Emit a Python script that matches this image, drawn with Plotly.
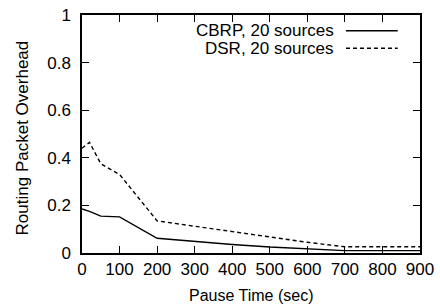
import plotly.graph_objects as go

pause = [0, 20, 50, 100, 200, 300, 400, 500, 600, 700, 800, 900]
cbrp = [0.185, 0.175, 0.155, 0.152, 0.062, 0.048, 0.036, 0.025, 0.017, 0.01, 0.01, 0.01]
dsr = [0.44, 0.465, 0.375, 0.33, 0.135, 0.112, 0.09, 0.065, 0.045, 0.026, 0.026, 0.026]
names = ["CBRP, 20 sources", "DSR, 20 sources"]
xticks = [0, 100, 200, 300, 400, 500, 600, 700, 800, 900]
yticks = [0, 0.2, 0.4, 0.6, 0.8, 1]
ytick_labels = ["0", "0.2", "0.4", "0.6", "0.8", "1"]

FONT = "Liberation Sans, Arial, sans-serif"
FS = 17
fig = go.Figure()
fig.add_trace(go.Scatter(x=pause, y=cbrp, mode="lines", name=names[0],
                         line=dict(color="black", width=1.4), showlegend=False))
fig.add_trace(go.Scatter(x=pause, y=dsr, mode="lines", name=names[1],
                         line=dict(color="black", width=1.4, dash="4px,3px"), showlegend=False))

# gnuplot-style legend: text right aligned, key sample to the right
for nm, dash, ypos in zip(names, ["solid", "4px,3px"], [0.934, 0.860]):
    fig.add_annotation(x=0.752, y=ypos, xref="paper", yref="paper", text=nm,
                       showarrow=False, xanchor="right", yanchor="middle",
                       font=dict(family=FONT, size=FS, color="black"))
    fig.add_shape(type="line", xref="paper", yref="paper", x0=0.781, x1=0.934,
                  y0=ypos, y1=ypos, line=dict(color="black", width=1.4, dash=dash))

axis_common = dict(ticks="inside", ticklen=7, tickwidth=1.4, tickcolor="black",
                   showline=True, linecolor="black", linewidth=1.5,
                   mirror="allticks", showgrid=False, zeroline=False, automargin=False,
                   tickfont=dict(size=FS, family=FONT, color="black"), layer="above traces")

# axis titles
fig.add_annotation(x=0.5, y=-0.178, xref="paper", yref="paper", text="Pause Time (sec)",
                   showarrow=False, xanchor="center", yanchor="middle",
                   font=dict(family=FONT, size=16, color="black"))
fig.add_annotation(x=-0.175, y=0.485, xref="paper", yref="paper",
                   text="Routing Packet Overhead", textangle=-90,
                   showarrow=False, xanchor="center", yanchor="middle",
                   font=dict(family=FONT, size=17, color="black"))

fig.update_layout(
    template="none",
    width=440, height=308,
    margin=dict(l=82, r=20, t=15, b=55),
    paper_bgcolor="white", plot_bgcolor="white",
    font=dict(family=FONT, size=FS, color="black"),
    xaxis=dict(range=[0, 900], tickvals=xticks, **axis_common),
    yaxis=dict(range=[0, 1], tickvals=yticks, ticktext=ytick_labels,
               ticklabelstandoff=6, **axis_common),
)
fig.write_html("out.html", config={"displayModeBar": False},
               post_script="document.body.style.margin='0px';document.body.style.overflow='hidden';")
